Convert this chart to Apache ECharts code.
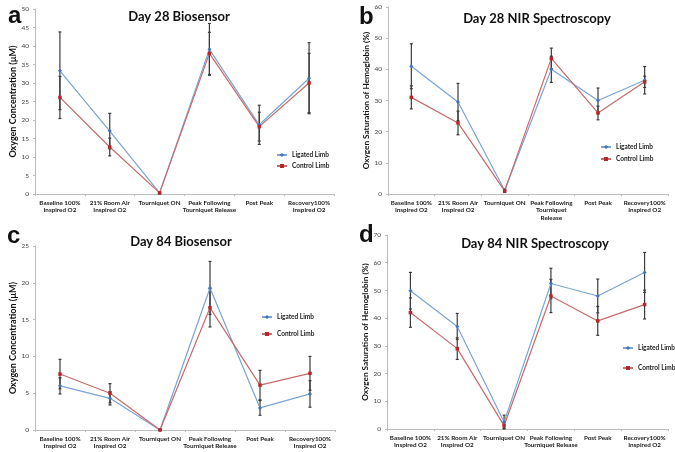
<!DOCTYPE html>
<html>
<head>
<meta charset="utf-8">
<script src="https://cdn.jsdelivr.net/npm/echarts@6/dist/echarts.min.js"></script>
<style>
  html, body { margin: 0; padding: 0; background: #fff; }
  #chart { width: 675px; height: 452px; }
</style>
</head>
<body>
<div id="chart"></div>
<script>
// category labels
const categories = ['Baseline 100%\nInspired O2', '21% Room Air\nInspired O2', 'Tourniquet ON', 'Peak Following\nTourniquet Release', 'Post Peak', 'Recovery100%\nInspired O2']
const categoriesNir28 = ['Baseline 100%\nInspired O2', '21% Room Air\nInspired O2', 'Tourniquet ON', 'Peak Following\nTourniquet\nRelease', 'Post Peak', 'Recovery100%\nInspired O2']

// a - Day 28 Biosensor
const day28BioLigated = [33.3, 17.0, 0.3, 39.1, 18.7, 31.3]
const day28BioLigatedErr = [10.5, 4.8, 0.2, 7.0, 5.3, 9.6]
const day28BioControl = [26.1, 12.7, 0.3, 38.0, 18.2, 30.0]
const day28BioControlErr = [5.7, 2.4, 0.2, 5.7, 3.9, 8.0]

// b - Day 28 NIR Spectroscopy
const day28NirLigated = [41.0, 29.5, 1.2, 40.0, 30.0, 36.5]
const day28NirLigatedErr = [7.2, 6.0, 0.5, 4.2, 4.0, 4.4]
const day28NirControl = [31.0, 22.8, 1.0, 43.5, 26.0, 36.0]
const day28NirControlErr = [3.7, 3.8, 0.5, 3.3, 2.2, 1.8]

// c - Day 84 Biosensor
const day84BioLigated = [6.0, 4.3, 0.0, 19.3, 3.0, 4.9]
const day84BioLigatedErr = [1.1, 0.9, 0.05, 3.6, 1.0, 1.8]
const day84BioControl = [7.6, 5.0, 0.0, 16.6, 6.1, 7.7]
const day84BioControlErr = [2.0, 1.3, 0.05, 2.6, 2.0, 2.3]

// d - Day 84 NIR Spectroscopy
const day84NirLigated = [49.9, 37.0, 2.5, 52.5, 48.0, 56.5]
const day84NirLigatedErr = [6.6, 4.7, 2.5, 5.5, 6.1, 7.2]
const day84NirControl = [42.0, 29.0, 1.2, 48.0, 39.0, 44.9]
const day84NirControlErr = [5.3, 3.9, 1.0, 6.0, 5.2, 5.2]

const blue = '#7ba4d3'
const red = '#c76a6c'
const font = 'Lato, "Open Sans", sans-serif'

const panels = [
  { title: 'Day 28 Biosensor', letter: 'a', cats: categories, ligated: day28BioLigated, ligatedErr: day28BioLigatedErr, control: day28BioControl, controlErr: day28BioControlErr,
    max: 50, interval: 5, yName: 'Oxygen Concentration (µM)', nameSize: 9,
    grid: { left: 35, top: 9, width: 299, height: 185 }, titleX: 174, titleY: 5, letterX: 3, letterY: -1,
    legend: { left: 276, top: 151, itemGap: 3 }, nameGap: 13 },
  { title: 'Day 28 NIR Spectroscopy', letter: 'b', cats: categoriesNir28, ligated: day28NirLigated, ligatedErr: day28NirLigatedErr, control: day28NirControl, controlErr: day28NirControlErr,
    max: 60, interval: 10, yName: 'Oxygen Saturation of Hemoglobin (%)', nameSize: 8.2,
    grid: { left: 388, top: 7, width: 280, height: 187 }, titleX: 532, titleY: 7, letterX: 354, letterY: 0,
    legend: { left: 600, top: 143, itemGap: 4 }, nameGap: 15 },
  { title: 'Day 84 Biosensor', letter: 'c', cats: categories, ligated: day84BioLigated, ligatedErr: day84BioLigatedErr, control: day84BioControl, controlErr: day84BioControlErr,
    max: 25, interval: 5, yName: 'Oxygen Concentration (µM)', nameSize: 9,
    grid: { left: 35, top: 246, width: 300, height: 184 }, titleX: 176, titleY: 230, letterX: 2, letterY: 219,
    legend: { left: 261, top: 313, itemGap: 9 }, nameGap: 15 },
  { title: 'Day 84 NIR Spectroscopy', letter: 'd', cats: categories, ligated: day84NirLigated, ligatedErr: day84NirLigatedErr, control: day84NirControl, controlErr: day84NirControlErr,
    max: 70, interval: 10, yName: 'Oxygen Saturation of Hemoglobin (%)', nameSize: 8.2,
    grid: { left: 387, top: 235, width: 281, height: 194 }, titleX: 530, titleY: 232, letterX: 354, letterY: 218,
    legend: { left: 622, top: 344, itemGap: 12 }, nameGap: 14 }
]

function errorData(vals, errs) {
  return vals.map((v, i) => [i, v - errs[i], v + errs[i]])
}

function renderErrorBar(params, api) {
  const idx = api.value(0)
  const lo = api.coord([idx, api.value(1)])
  const hi = api.coord([idx, api.value(2)])
  const w = 1.5
  const style = { stroke: '#3a3a3a', lineWidth: 1.2 }
  return {
    type: 'group',
    children: [
      { type: 'line', shape: { x1: hi[0], y1: hi[1], x2: lo[0], y2: lo[1] }, style },
      { type: 'line', shape: { x1: hi[0] - w, y1: hi[1], x2: hi[0] + w, y2: hi[1] }, style },
      { type: 'line', shape: { x1: lo[0] - w, y1: lo[1], x2: lo[0] + w, y2: lo[1] }, style }
    ]
  }
}

const chart = echarts.init(document.getElementById('chart'))

const option = {
  animation: false,
  title: [],
  legend: [],
  grid: [],
  xAxis: [],
  yAxis: [],
  series: []
}

panels.forEach((p, i) => {
  option.title.push({
    text: p.title, left: p.titleX, top: p.titleY, textAlign: 'center',
    textStyle: { fontFamily: font, fontWeight: 'bold', fontSize: 13, color: '#111' }
  })
  option.title.push({
    text: p.letter, left: p.letterX, top: p.letterY,
    textStyle: { fontFamily: 'Liberation Sans, Arial, sans-serif', fontWeight: 'bold', fontSize: 24, color: '#111' }
  })
  option.legend.push({
    data: ['Ligated Limb', 'Control Limb'],
    orient: 'vertical', left: p.legend.left, top: p.legend.top, itemGap: p.legend.itemGap,
    itemWidth: 10, itemHeight: 5, padding: 0,
    textStyle: { fontFamily: font, fontWeight: 'bold', fontSize: 6.5, color: '#222', lineHeight: 8 }
  })
  option.grid.push(Object.assign({ containLabel: false }, p.grid))
  option.xAxis.push({
    type: 'category', gridIndex: i, data: p.cats, boundaryGap: true,
    axisLine: { lineStyle: { color: '#bdbdbd', width: 1 } },
    axisTick: { show: true, length: 2, lineStyle: { color: '#bdbdbd' } },
    axisLabel: { interval: 0, fontFamily: font, fontWeight: 'bold', fontSize: 6.3, lineHeight: 7.5, color: '#1a1a1a', margin: 5 }
  })
  option.yAxis.push({
    type: 'value', gridIndex: i, min: 0, max: p.max, interval: p.interval,
    name: p.yName, nameLocation: 'middle', nameGap: p.nameGap,
    nameTextStyle: { fontFamily: font, fontWeight: 'bold', fontSize: p.nameSize, color: '#111' },
    axisLine: { show: true, lineStyle: { color: '#bdbdbd', width: 1 } },
    axisTick: { show: true, length: 2, lineStyle: { color: '#bdbdbd' } },
    splitLine: { show: false },
    axisLabel: { fontFamily: font, fontSize: 6.5, color: '#444', margin: 6 }
  })
  option.series.push({
    name: 'Ligated Limb', type: 'line', xAxisIndex: i, yAxisIndex: i, data: p.ligated,
    symbol: 'diamond', symbolSize: 4,
    lineStyle: { color: blue, width: 1.2 }, itemStyle: { color: '#3f73b8' }
  })
  option.series.push({
    name: 'Control Limb', type: 'line', xAxisIndex: i, yAxisIndex: i, data: p.control,
    symbol: 'rect', symbolSize: 3.5,
    lineStyle: { color: red, width: 1.2 }, itemStyle: { color: '#b3282d' }
  })
  option.series.push({
    type: 'custom', xAxisIndex: i, yAxisIndex: i, renderItem: renderErrorBar,
    data: errorData(p.ligated, p.ligatedErr), z: 3, silent: true
  })
  option.series.push({
    type: 'custom', xAxisIndex: i, yAxisIndex: i, renderItem: renderErrorBar,
    data: errorData(p.control, p.controlErr), z: 3, silent: true
  })
})

chart.setOption(option)
</script>
</body>
</html>
